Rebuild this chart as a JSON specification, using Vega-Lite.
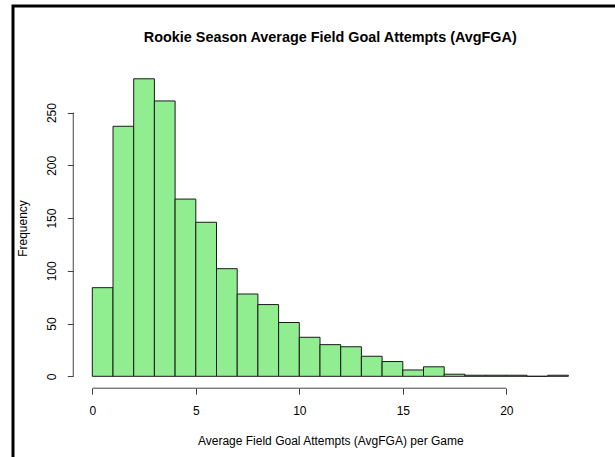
{
  "$schema": "https://vega.github.io/schema/vega-lite/v6.json",
  "autosize": {"type": "none"},
  "padding": {"left": 13, "top": 6, "right": -10, "bottom": -9},
  "width": 612,
  "height": 460,
  "background": "white",
  "title": {
    "text": "Rookie Season Average Field Goal Attempts (AvgFGA)",
    "font": "Liberation Sans",
    "fontSize": 14.4,
    "fontWeight": "bold",
    "color": "black",
    "anchor": "middle",
    "frame": "group",
    "offset": 0,
    "baseline": "alphabetic",
    "dy": 50,
    "dx": 11.3
  },
  "config": {
    "view": {"stroke": "black", "strokeWidth": 3, "fill": "white"},
    "axis": {
      "domain": false,
      "grid": false,
      "ticks": true,
      "tickSize": 6,
      "tickColor": "#444444",
      "tickWidth": 1,
      "labelFont": "Liberation Sans",
      "labelFontSize": 12,
      "labelColor": "black",
      "labelFlush": false,
      "labelOverlap": false,
      "titleFont": "Liberation Sans",
      "titleFontSize": 12,
      "titleFontWeight": "normal",
      "titleColor": "black"
    }
  },
  "layer": [
    {
      "data": {
        "values": [
          {"start": 0, "end": 1, "count": 84},
          {"start": 1, "end": 2, "count": 237},
          {"start": 2, "end": 3, "count": 282},
          {"start": 3, "end": 4, "count": 261},
          {"start": 4, "end": 5, "count": 168},
          {"start": 5, "end": 6, "count": 146},
          {"start": 6, "end": 7, "count": 102},
          {"start": 7, "end": 8, "count": 78},
          {"start": 8, "end": 9, "count": 68},
          {"start": 9, "end": 10, "count": 51},
          {"start": 10, "end": 11, "count": 37},
          {"start": 11, "end": 12, "count": 30},
          {"start": 12, "end": 13, "count": 28},
          {"start": 13, "end": 14, "count": 19},
          {"start": 14, "end": 15, "count": 14},
          {"start": 15, "end": 16, "count": 6},
          {"start": 16, "end": 17, "count": 9},
          {"start": 17, "end": 18, "count": 2},
          {"start": 18, "end": 19, "count": 1},
          {"start": 19, "end": 20, "count": 1},
          {"start": 20, "end": 21, "count": 1},
          {"start": 21, "end": 22, "count": 0},
          {"start": 22, "end": 23, "count": 1}
        ]
      },
      "mark": {"type": "rect", "fill": "#90EE90", "stroke": "#1a1a1a", "strokeWidth": 1},
      "encoding": {
        "x": {
          "field": "start",
          "type": "quantitative",
          "scale": {"domain": [-3.831, 25.734], "nice": false, "zero": false},
          "axis": {
            "values": [0, 5, 10, 15, 20],
            "offset": -77.8,
            "labelPadding": 11,
            "title": "Average Field Goal Attempts (AvgFGA) per Game",
            "titleX": 317.3,
            "titleY": 56.5,
            "titleAlign": "center",
            "titleBaseline": "alphabetic",
            "titleAnchor": null
          }
        },
        "x2": {"field": "end"},
        "y": {
          "field": "count",
          "type": "quantitative",
          "scale": {"domain": [-85.02, 351.0], "nice": false, "zero": false},
          "axis": {
            "values": [0, 50, 100, 150, 200, 250],
            "offset": -60.26,
            "labelAngle": 270,
            "labelAlign": "center",
            "labelBaseline": "alphabetic",
            "labelPadding": 12,
            "title": "Frequency",
            "titleAngle": 270,
            "titleAlign": "center",
            "titleBaseline": "alphabetic",
            "titleX": -46.5,
            "titleY": 222
          }
        },
        "y2": {"datum": 0}
      }
    },
    {
      "data": {"values": [{}]},
      "mark": {"type": "rule", "color": "#444444", "strokeWidth": 1},
      "encoding": {
        "x": {"datum": 0, "type": "quantitative"},
        "x2": {"datum": 20},
        "y": {"datum": -11.28, "type": "quantitative"}
      }
    },
    {
      "data": {"values": [{}]},
      "mark": {"type": "rule", "color": "#444444", "strokeWidth": 1},
      "encoding": {
        "y": {"datum": 0, "type": "quantitative"},
        "y2": {"datum": 250},
        "x": {"datum": -0.92, "type": "quantitative"}
      }
    }
  ]
}
